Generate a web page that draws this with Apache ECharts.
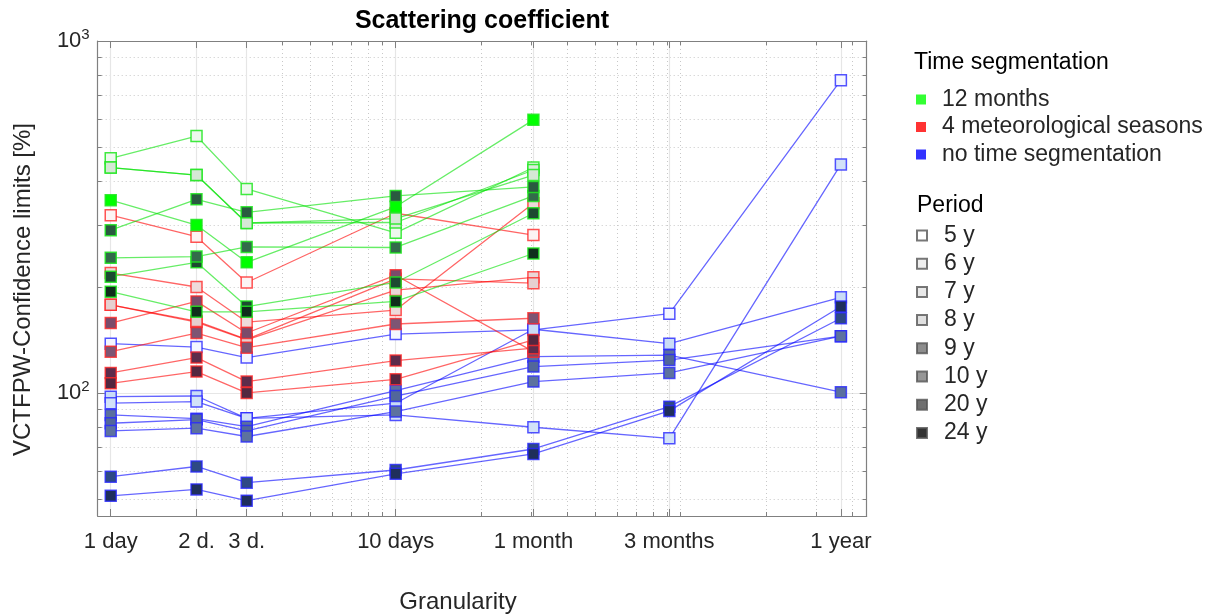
<!DOCTYPE html>
<html>
<head>
<meta charset="utf-8">
<title>Scattering coefficient</title>
<script src="https://cdn.jsdelivr.net/npm/echarts@6.0.0/dist/echarts.min.js"></script>
<style>
  html, body { margin: 0; padding: 0; background: #fff; }
  #main { width: 1221px; height: 616px; }
</style>
</head>
<body>
<div id="main"></div>
<script>
var FONT = "'Liberation Sans', Arial, sans-serif";
var TXT = '#262626';

// x positions in days (log axis) and their labels
var granularity = [1, 2, 3, 10, 30.44, 91.31, 365.25];
var granularityLabels = ['1 day', '2 d.', '3 d.', '10 days', '1 month', '3 months', '1 year'];
var xMinorTicks = [4, 5, 6, 7, 8, 9, 20, 30, 40, 50, 60, 70, 80, 90, 100, 200, 300, 400];
var yMajorTicks = [100, 1000];
var yMinorTicks = [50, 60, 70, 80, 90, 200, 300, 400, 500, 600, 700, 800, 900];

var segmentations = ['12 months', '4 meteorological seasons', 'no time segmentation'];
var segmentationColors = ['#00ff00', '#ff0000', '#0000ff'];
var periods = ['5 y', '6 y', '7 y', '8 y', '9 y', '10 y', '20 y', '24 y'];
var periodGrays = ['#ffffff', '#ebebeb', '#e2e2e2', '#d8d8d8', '#707070', '#7c7c7c', '#4b4b4b', '#000000'];

// 12 months segmentation (1 day .. 1 month)
var green5y  = [464, 537, 380, 285, 437];
var green6y  = [437, 416, 304, 305, 430];
var green7y  = [437, 416, 304, 313, 416];
var green8y  = [353, 300, 235, 338, 597];
var green9y  = [214, 235, 176, 206, 324];
var green10y = [242, 244, 260, 259, 363];
var green20y = [290, 355, 326, 363, 385];
var green24y = [194, 170, 170, 182, 249];

// 4 meteorological seasons (1 day .. 1 month)
var red5y  = [320, 278, 206, 324, 281];
var red6y  = [219, 200, 159, 172, 346];
var red7y  = [178, 159, 141.5, 196, 213];
var red8y  = [178, 160, 142, 211, 205];
var red9y  = [158, 182, 148, 216, 131];
var red10y = [131, 148, 134.5, 157, 163];
var red20y = [114, 126, 107.7, 123.6, 134];
var red24y = [106.5, 115, 100, 109.3, 141.5];

// no time segmentation (1 day .. 1 year)
var blue5y  = [138, 135, 126, 147, 151, 168, 774];
var blue6y  = [97.6, 98, 84.7, 93.5, 151.7, 138, 187];
var blue7y  = [93.5, 94.5, 84.7, 86.6, 79.9, 74.3, 446];
var blue8y  = [86.6, 84.5, 80.2, 101.5, 126.8, 128, 100.5];
var blue9y  = [82, 84, 78, 98, 118.8, 124, 145];
var blue10y = [78, 79.4, 75.2, 88.5, 107.7, 114, 145];
var blue20y = [57.8, 61.8, 55.6, 60.4, 69.3, 91.4, 163];
var blue24y = [51, 53.2, 49.4, 58.9, 67.1, 88.9, 176];

var greenFill = ['#eef8ee', '#dcecdc', '#d5e8d5', '#00ff00', '#1d4a31', '#336b4a', '#2a5a40', '#0f2e1c'];
var redFill   = ['#fcf4f4', '#eedada', '#ead6d6', '#e6d0d0', '#7b4b6a', '#7e5573', '#5d2c4b', '#532740'];
var blueFill  = ['#f4f6ff', '#c9dcf6', '#d2e2f8', '#5a6f9f', '#52679a', '#5d729f', '#2e4985', '#1f2f5c'];

var groups = [
  { key: 'b', values: [blue5y, blue6y, blue7y, blue8y, blue9y, blue10y, blue20y, blue24y], fill: blueFill,
    edge: 'rgba(40,40,255,0.8)', line: 'rgba(0,0,255,0.6)' },
  { key: 'r', values: [red5y, red6y, red7y, red8y, red9y, red10y, red20y, red24y], fill: redFill,
    edge: 'rgba(255,40,40,0.8)', line: 'rgba(255,0,0,0.6)' },
  { key: 'g', values: [green5y, green6y, green7y, green8y, green9y, green10y, green20y, green24y], fill: greenFill,
    edge: 'rgba(30,230,30,0.85)', line: 'rgba(0,225,0,0.6)' }
];

var series = [];
groups.forEach(function (g) {
  g.values.forEach(function (vals, p) {
    series.push({
      name: g.key + periods[p],
      type: 'line',
      xAxisIndex: 0,
      yAxisIndex: 0,
      data: vals.map(function (v, i) { return [granularity[i], v]; }),
      symbol: 'rect',
      symbolSize: 11,
      lineStyle: { color: g.line, width: 1.3 },
      itemStyle: { color: g.fill[p], borderColor: g.edge, borderWidth: 1.5 },
      emphasis: { disabled: true },
      silent: true,
      z: 3
    });
  });
});

// placeholder series just for the two legends
segmentations.forEach(function (s, i) {
  series.push({ name: s, type: 'scatter', data: [], symbol: 'rect',
    itemStyle: { color: segmentationColors[i] } });
});
periods.forEach(function (s, i) {
  series.push({ name: s, type: 'scatter', data: [], symbol: 'rect',
    itemStyle: { color: periodGrays[i], borderColor: '#555', borderWidth: 1 } });
});

function xLabel(v) {
  for (var i = 0; i < granularity.length; i++) {
    if (Math.abs(Math.log(v) - Math.log(granularity[i])) < 0.01) return granularityLabels[i];
  }
  return '';
}

var AX = '#808080';
var gridMajor = { show: true, lineStyle: { color: '#e6e6e6', width: 1.2, type: 'solid' } };
var gridMinor = { show: true, lineStyle: { color: '#c8c8c8', width: 1, type: [1, 3] } };

function xAx(pos, ticks, len, labels, split, line) {
  return {
    type: 'log', logBase: 10, min: 0.9, max: 450, position: pos, gridIndex: 0,
    axisLine: { show: line, lineStyle: { color: AX, width: 1.2 } },
    axisTick: { show: true, inside: true, length: len, customValues: ticks, lineStyle: { color: AX } },
    axisLabel: labels ? { show: true, customValues: granularity, formatter: xLabel, margin: 15,
      color: TXT, fontSize: 22, fontFamily: FONT } : { show: false },
    splitLine: split,
    minorTick: { show: false }
  };
}
function yAx(pos, ticks, len, labels, split, line) {
  return {
    type: 'log', logBase: 10, min: 44.7, max: 1000, position: pos, gridIndex: 0,
    axisLine: { show: line, lineStyle: { color: AX, width: 1.2 } },
    axisTick: { show: true, inside: true, length: len, customValues: ticks, lineStyle: { color: AX } },
    axisLabel: labels ? {
      show: true, customValues: yMajorTicks, margin: 8,
      formatter: function (v) { return '{b|10}{s|' + Math.round(Math.log(v) / Math.LN10) + '}'; },
      rich: {
        b: { fontSize: 22, color: TXT, fontFamily: FONT, lineHeight: 28 },
        s: { fontSize: 15, color: TXT, fontFamily: FONT, lineHeight: 15, verticalAlign: 'top' }
      }
    } : { show: false },
    splitLine: split,
    name: labels ? 'VCTFPW-Confidence limits [%]' : '',
    nameLocation: 'middle', nameRotate: 90, nameGap: 62,
    nameTextStyle: { fontSize: 24, color: TXT, fontFamily: FONT, padding: [0, 22, 0, 0] }
  };
}

var option = {
  backgroundColor: '#ffffff',
  animation: false,
  textStyle: { fontFamily: FONT },
  title: [
    { text: 'Scattering coefficient', left: 482, top: 9, padding: 0, textAlign: 'center',
      textStyle: { fontSize: 25, fontWeight: 'bold', color: '#000', fontFamily: FONT } },
    { text: 'Granularity', left: 458, top: 590, padding: 0, textAlign: 'center',
      textStyle: { fontSize: 24, fontWeight: 'normal', color: TXT, fontFamily: FONT } },
    { text: 'Time segmentation', left: 914, top: 51, padding: 0,
      textStyle: { fontSize: 23, fontWeight: 'normal', color: '#000', fontFamily: FONT } },
    { text: 'Period', left: 917, top: 194, padding: 0,
      textStyle: { fontSize: 23, fontWeight: 'normal', color: '#000', fontFamily: FONT } }
  ],
  legend: [
    { data: segmentations, orient: 'vertical', left: 916, top: 88, padding: 0,
      icon: 'rect', itemWidth: 10, itemHeight: 10, itemGap: 4.5, selectedMode: false,
      textStyle: { fontSize: 23, lineHeight: 23, color: TXT, fontFamily: FONT, padding: [0, 0, 0, 11] } },
    { data: periods, orient: 'vertical', left: 916, top: 224, padding: 0,
      icon: 'rect', itemWidth: 10, itemHeight: 10, itemGap: 5.2, selectedMode: false,
      textStyle: { fontSize: 23, lineHeight: 23, color: TXT, fontFamily: FONT, padding: [0, 0, 0, 12] } }
  ],
  grid: { left: 97.7, top: 41, width: 769, height: 475, containLabel: false, outerBoundsMode: 'none' },
  xAxis: [
    xAx('bottom', granularity, 7, true, gridMajor, true),
    xAx('bottom', xMinorTicks, 4, false, gridMinor, false),
    xAx('top', granularity, 7, false, { show: false }, true),
    xAx('top', xMinorTicks, 4, false, { show: false }, false)
  ],
  yAxis: [
    yAx('left', yMajorTicks, 7, true, gridMajor, true),
    yAx('left', yMinorTicks, 4, false, gridMinor, false),
    yAx('right', yMajorTicks, 7, false, { show: false }, true),
    yAx('right', yMinorTicks, 4, false, { show: false }, false)
  ],
  series: series
};

var chart = echarts.init(document.getElementById('main'), null, { renderer: 'canvas' });
chart.setOption(option);
window.addEventListener('resize', function () { chart.resize(); });
</script>
</body>
</html>
